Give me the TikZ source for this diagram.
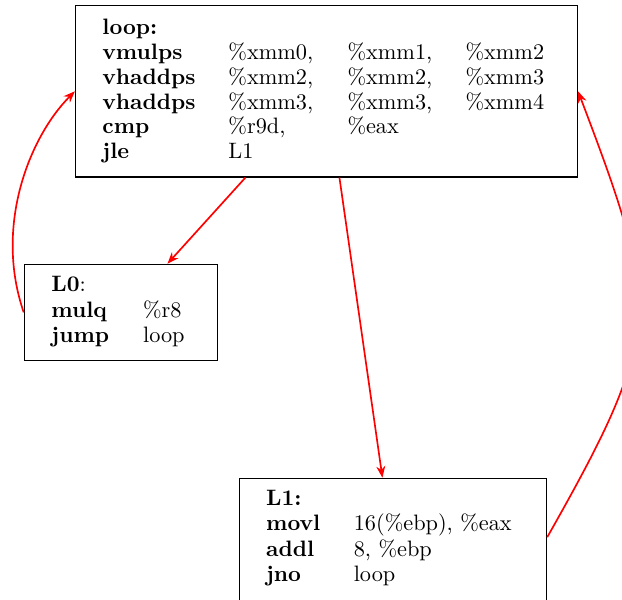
\documentclass[tikz,border=0pt]{standalone}
\usetikzlibrary{arrows.meta,fit,calc}
\begin{document}
\begin{tikzpicture}[x=0.4484pt,y=-0.4484pt,
  box/.style={draw, line width=0.5pt, inner sep=0pt, rectangle},
  arr/.style={red, line width=0.75pt, -{Stealth[length=5.2pt,width=4pt]}},
  txt/.style={anchor=base west, inner sep=0pt}]
\useasboundingbox (0,0) rectangle (622,599);
\clip (0,0) rectangle (622,599);
% boxes
\node[box, fit={(75.5,5.5) (577.5,177)}] (loop) {};
\node[box, fit={(24.3,264.3) (217.3,360.5)}] (L0) {};
\node[box, fit={(239.5,478.3) (546.7,602)}] (L1) {};
% code
\node[txt] (loopcode) at (102,34) {\renewcommand{\arraystretch}{0.934}%
\begin{tabular}[t]{@{}p{56.5pt}@{}p{53.4pt}@{}p{52.9pt}@{}l@{}}
\textbf{loop:} &&&\\
\textbf{vmulps} & \%xmm0, & \%xmm1, & \%xmm2\\
\textbf{vhaddps} & \%xmm2, & \%xmm2, & \%xmm3\\
\textbf{vhaddps} & \%xmm3, & \%xmm3, & \%xmm4\\
\textbf{cmp} & \%r9d, & \%eax &\\
\textbf{jle} & L1 &&
\end{tabular}};
\node[txt] (L0code) at (51,291.5) {\renewcommand{\arraystretch}{0.96}%
\begin{tabular}[t]{@{}p{41.1pt}@{}l@{}}
\textbf{L0}: &\\
\textbf{mulq} & \%r8\\
\textbf{jump} & loop
\end{tabular}};
\node[txt] (L1code) at (265.7,505.7) {\renewcommand{\arraystretch}{0.94}%
\begin{tabular}[t]{@{}p{39.3pt}@{}l@{}}
\textbf{L1:} &\\
\textbf{movl} & 16(\%ebp), \%eax\\
\textbf{addl} & 8, \%ebp\\
\textbf{jno} & loop
\end{tabular}};
% connectors
\draw[arr] ($(loop.south west)+(170.5,0)$) -- ($(L0.north west)+(143.7,0)$);
\draw[arr] ($(loop.south west)+(264.5,0)$) -- ($(L1.north west)+(143.5,0)$);
\draw[arr] (L0.west) .. controls +(-30,-87) and +(-45,45) .. (loop.west);
\draw[arr] ($(L1.east)+(0,-3)$) .. controls +(116,-205) and +(83,218.5) .. (loop.east);
\end{tikzpicture}
\end{document}
